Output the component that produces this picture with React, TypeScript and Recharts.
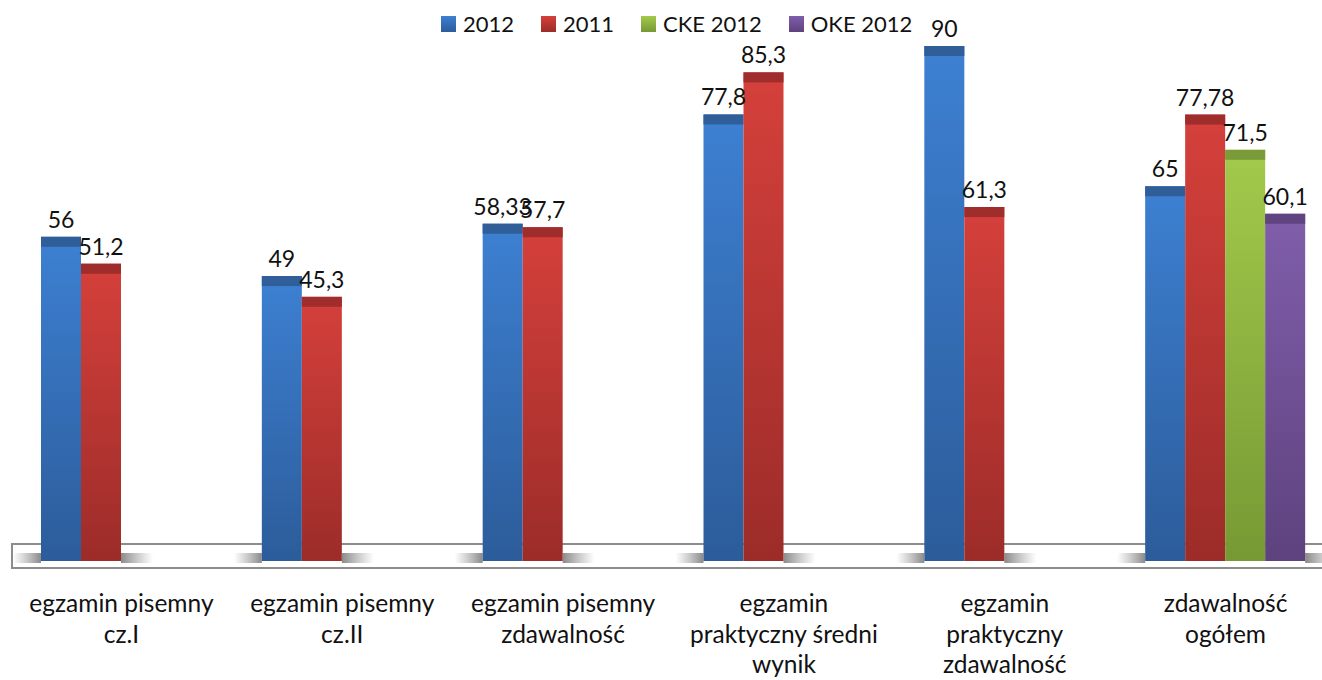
import { BarChart, Bar, XAxis, YAxis, Legend, LabelList } from "recharts";

const categories = [
  "egzamin pisemny\ncz.I",
  "egzamin pisemny\ncz.II",
  "egzamin pisemny\nzdawalność",
  "egzamin\npraktyczny średni\nwynik",
  "egzamin\npraktyczny\nzdawalność",
  "zdawalność\nogółem",
];
const values2012 = [56, 49, 58.33, 77.8, 90, 65];
const values2011 = [51.2, 45.3, 57.7, 85.3, 61.3, 77.78];
const valuesCke = [null, null, null, null, null, 71.5];
const valuesOke = [null, null, null, null, null, 60.1];

const data = categories.map((name, i) => ({
  name,
  y2012: values2012[i],
  y2011: values2011[i],
  cke: valuesCke[i],
  oke: valuesOke[i],
}));

const FONT = "Lato, 'Open Sans', sans-serif";
const FS = 23;

const series = [
  { key: "y2012", label: "2012", top: "#3d80d2", bottom: "#2c5c9a", cap: "#2f5e98" },
  { key: "y2011", label: "2011", top: "#d5403b", bottom: "#9c2c29", cap: "#9f2d2b" },
  { key: "cke", label: "CKE 2012", top: "#a3ca4b", bottom: "#779934", cap: "#7b9b3a" },
  { key: "oke", label: "OKE 2012", top: "#805eab", bottom: "#5e427e", cap: "#5f4481" },
];

const fmt = (v: any) => (v == null ? "" : String(v).replace(".", ","));

const makeShape = (s: (typeof series)[number], idx: number) => (props: any) => {
  const { x, y, width, height, payload } = props;
  if (payload[s.key] == null) return <g />;
  const base = y + height;
  const isFirst = idx === 0;
  const isLast = idx === series.length - 1 || payload[series[idx + 1].key] == null;
  return (
    <g>
      {isFirst && <rect x={x - 28} y={base + 2} width={28} height={10} fill="url(#shadowL)" />}
      {isLast && <rect x={x + width} y={base + 2} width={32} height={10} fill="url(#shadowR)" />}
      <rect x={x} y={y} width={width} height={height + 10} fill={`url(#grad-${s.key})`} />
      <rect x={x} y={y} width={width} height={10} fill={s.cap} />
    </g>
  );
};

const Tick = (props: any) => {
  const { x, y, payload } = props;
  const lines = String(payload.value).split("\n");
  return (
    <text x={x} y={y + 61} textAnchor="middle" fill="#111" fontSize={24.5} fontFamily={FONT}>
      {lines.map((l, i) => (
        <tspan key={i} x={x} dy={i === 0 ? 0 : 30.5}>
          {l}
        </tspan>
      ))}
    </text>
  );
};

const LegendContent = () => (
  <div style={{ display: "flex", alignItems: "center", fontFamily: FONT, fontSize: 22, color: "#111" }}>
    {series.map((s) => (
      <div key={s.key} style={{ display: "flex", alignItems: "center", marginRight: 27 }}>
        <div
          style={{
            width: 15,
            height: 16,
            background: `linear-gradient(${s.top}, ${s.bottom})`,
            marginRight: 7,
          }}
        />
        <span>{s.label}</span>
      </div>
    ))}
  </div>
);

export default function App() {
  return (
    <div style={{ position: "absolute", left: 0, top: 0, width: 1322, height: 680, overflow: "hidden", background: "#fff" }}>
      <div
        style={{
          position: "absolute",
          left: 11,
          top: 543,
          width: 1340,
          height: 22,
          border: "2px solid #8c8c8c",
          background: "#fff",
        }}
      />
      <div style={{ position: "absolute", left: 0, top: 0 }}>
        <BarChart
          width={1336}
          height={680}
          data={data}
          margin={{ top: 46, right: 0, left: 11, bottom: 0 }}
          barSize={40}
          barGap={0}
        >
          <defs>
            {series.map((s) => (
              <linearGradient key={s.key} id={`grad-${s.key}`} x1="0" y1="0" x2="0" y2="1">
                <stop offset="0%" stopColor={s.top} />
                <stop offset="100%" stopColor={s.bottom} />
              </linearGradient>
            ))}
            <linearGradient id="shadowL" x1="0" y1="0" x2="1" y2="0">
              <stop offset="0%" stopColor="#9a9a9a" stopOpacity={0} />
              <stop offset="100%" stopColor="#8a8a8a" stopOpacity={1} />
            </linearGradient>
            <linearGradient id="shadowR" x1="0" y1="0" x2="1" y2="0">
              <stop offset="0%" stopColor="#8a8a8a" stopOpacity={1} />
              <stop offset="100%" stopColor="#9a9a9a" stopOpacity={0} />
            </linearGradient>
          </defs>
          <XAxis
            dataKey="name"
            height={129}
            axisLine={false}
            tickLine={false}
            tickSize={0}
            tickMargin={0}
            interval={0}
            tick={<Tick />}
          />
          <YAxis hide domain={[0, 90]} />
          <Legend
            verticalAlign="middle"
            align="center"
            layout="horizontal"
            content={<LegendContent />}
            wrapperStyle={{ top: 10, left: 441, width: 700 }}
          />
          {series.map((s, i) => (
            <Bar key={s.key} dataKey={s.key} name={s.label} fill={s.top} shape={makeShape(s, i)} isAnimationActive={false}>
              <LabelList
                dataKey={s.key}
                position="top"
                offset={9}
                formatter={fmt}
                fill="#111"
                fontSize={FS}
                fontFamily={FONT}
              />
            </Bar>
          ))}
        </BarChart>
      </div>
    </div>
  );
}
